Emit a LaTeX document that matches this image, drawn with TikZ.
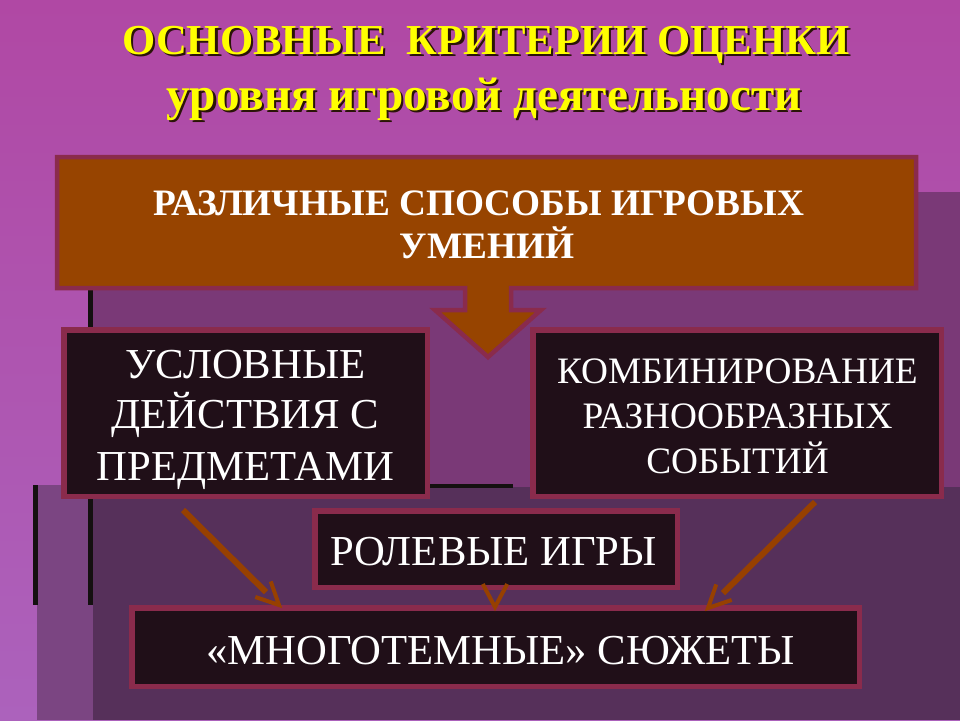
\documentclass[tikz,border=0pt]{standalone}
\usepackage{fontspec}
\setmainfont{Liberation Serif}
\usetikzlibrary{calc}
\definecolor{bgtop}{HTML}{B048A4}
\definecolor{bgbot}{HTML}{AC62BC}
\definecolor{midpurple}{HTML}{7A3977}
\definecolor{darkpurple}{HTML}{56305A}
\definecolor{lightpurple}{HTML}{7B4582}
\definecolor{rose}{HTML}{8A2B4C}
\definecolor{boxfill}{HTML}{200F18}
\definecolor{orangefill}{HTML}{974400}
\definecolor{arrowcol}{HTML}{974000}
\definecolor{titleyellow}{HTML}{FFFF00}
\definecolor{shadowcol}{HTML}{2A1408}
\definecolor{edgeblack}{HTML}{141010}
\newcommand\myshadowtext[1]{\rlap{\kern2.2pt\raisebox{-2.2pt}{\color{shadowcol}#1}}#1}
\begin{document}
\begin{tikzpicture}[x=1pt,y=-1pt,
  darkbox/.style={draw=rose, line width=5.5pt, fill=boxfill, inner sep=0pt},
  calloutshape/.style={draw=rose, line width=4.5pt, fill=orangefill},
  boxtxt/.style={text=white, inner sep=0pt, anchor=base, font=\fontsize{42.7}{50}\selectfont},
  smalltxt/.style={boxtxt, font=\fontsize{37.3}{44}\selectfont},
  calltxt/.style={boxtxt, font=\fontsize{37.3}{44}\selectfont\bfseries},
  titletxt/.style={text=titleyellow, inner sep=0pt, anchor=base, font=\fontsize{42.7}{48}\selectfont\bfseries},
  subtitletxt/.style={titletxt, font=\fontsize{47.2}{52}\selectfont\bfseries},
  shaft/.style={draw=arrowcol, line width=6pt},
  headstroke/.style={draw=arrowcol, line width=4pt, line join=miter}]
\useasboundingbox (0,0) rectangle (960,720);
% background
\shade[top color=bgtop, bottom color=bgbot] (0,0) rectangle (960,720);
\fill[midpurple] (92,192) rectangle (960,487);
\fill[darkpurple] (92,487) rectangle (960,720);
\fill[lightpurple] (37,485) rectangle (93,720);
\fill[edgeblack] (88,192) rectangle (93,605);
\fill[edgeblack] (33,485) rectangle (38,605);
\fill[edgeblack] (430,484) rectangle (513,488);
% title
\node[titletxt] (t1) at (486,54.5) {\myshadowtext{ОСНОВНЫЕ\ \ КРИТЕРИИ ОЦЕНКИ}};
\node[subtitletxt] (t2) at (484,110) {\myshadowtext{уровня игровой деятельности}};
% callout
\draw[calloutshape] (57,157) -- (916,157) -- (916,288) -- (511,288) -- (511,310) -- (541,310)
  -- (488,357) -- (435,310) -- (465,310) -- (465,288) -- (57,288) -- cycle;
\node[calltxt] (ca) at (478.5,215) {РАЗЛИЧНЫЕ СПОСОБЫ ИГРОВЫХ};
\node[calltxt] (cb) at (487,258) {УМЕНИЙ};
% boxes
\node[darkbox, minimum width=363.5pt, minimum height=166.5pt] (b1) at (245.5,413) {};
\node[boxtxt] (b1a) at (245.5,378) {УСЛОВНЫЕ};
\node[boxtxt] (b1b) at (245.5,428) {ДЕЙСТВИЯ С};
\node[boxtxt] (b1c) at (245.5,480) {ПРЕДМЕТАМИ};
\node[darkbox, minimum width=408.5pt, minimum height=166.5pt] (b2) at (737,413) {};
\node[smalltxt] (b2a) at (737.5,383) {КОМБИНИРОВАНИЕ};
\node[smalltxt] (b2b) at (737.5,428) {РАЗНООБРАЗНЫХ};
\node[smalltxt] (b2c) at (737.5,473) {СОБЫТИЙ};
\node[darkbox, minimum width=362.5pt, minimum height=76.5pt] (b3) at (496,549) {};
\node[boxtxt] (b3a) at (493.5,565) {РОЛЕВЫЕ ИГРЫ};
\node[darkbox, minimum width=727.5pt, minimum height=78.5pt] (b4) at (495.5,647) {};
\node[boxtxt] (b4a) at (500.5,664) {«МНОГОТЕМНЫЕ» СЮЖЕТЫ};
% arrows
\coordinate (a1s) at (183,510);
\coordinate (a1t) at (279,605);
\coordinate (a2s) at (495,560);
\coordinate (a2t) at (495,607);
\coordinate (a3s) at (815,502);
\coordinate (a3t) at (708,608);
\draw[shaft] (a1s) -- ($(a1s)!0.865!(a1t)$);
\draw[headstroke] ($(a1t)!25pt!26:(a1s)$) -- (a1t) -- ($(a1t)!25pt!-26:(a1s)$);
\draw[headstroke] ($(a2t)!26pt!28:(a2s)$) -- (a2t) -- ($(a2t)!26pt!-28:(a2s)$);
\draw[shaft] (a3s) -- ($(a3s)!0.86!(a3t)$);
\draw[headstroke] ($(a3t)!25pt!26:(a3s)$) -- (a3t) -- ($(a3t)!25pt!-26:(a3s)$);
\end{tikzpicture}
\end{document}
